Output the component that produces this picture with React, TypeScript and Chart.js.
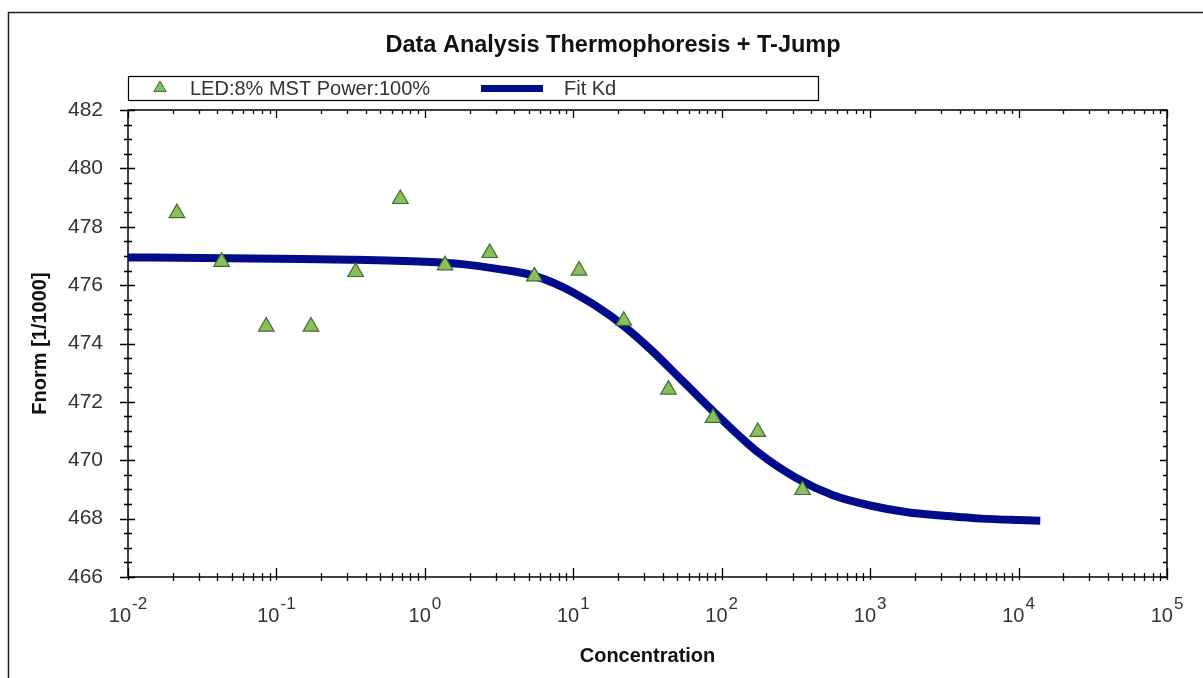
import React, { useEffect, useRef } from "react";
import { Chart, registerables } from "chart.js";

Chart.register(...registerables);

const chartTitle = "Data Analysis Thermophoresis + T-Jump";
const seriesLabel = "LED:8% MST Power:100%";
const fitLabel = "Fit Kd";
const xTitle = "Concentration";
const yTitle = "Fnorm [1/1000]";

// measured points
const concentrations = [0.02136, 0.04272, 0.08545, 0.1709, 0.3418, 0.6836, 1.367, 2.734, 5.469, 10.94, 21.88, 43.75, 87.5, 175, 350];
const fnorm = [478.47, 476.8, 474.58, 474.58, 476.45, 478.95, 476.68, 477.1, 476.3, 476.5, 474.78, 472.42, 471.45, 470.97, 468.98];

// fit curve
const fitConc = [0.01, 0.0316, 0.1, 0.316, 1, 1.78, 3.16, 5.62, 10, 17.8, 31.6, 56.2, 100, 178, 316, 562, 1000, 1780, 3160, 5620, 10000, 14000];
const fitFnorm = [476.95, 476.93, 476.9, 476.87, 476.8, 476.72, 476.55, 476.3, 475.75, 474.95, 473.9, 472.65, 471.4, 470.25, 469.4, 468.8, 468.45, 468.22, 468.1, 468.0, 467.95, 467.93];

const xExponents = [-2, -1, 0, 1, 2, 3, 4, 5];
const yMin = 466;
const yMax = 482;
const yStep = 2;

const FONT = '"Liberation Sans", Arial, sans-serif';
const NAVY = "#000c8a";
const TRI_FILL = "#8dbd5c";
const TRI_BORDER = "#3a7028";

const decorPlugin = {
  id: "decor",
  beforeDraw(chart: any) {
    const { ctx, width, height } = chart;
    ctx.save();
    ctx.fillStyle = "#ffffff";
    ctx.fillRect(0, 0, width, height);
    ctx.restore();
  },
  beforeDatasetsDraw(chart: any) {
    const { ctx, chartArea, scales } = chart;
    const { left, right, top, bottom } = chartArea;
    const x = scales.x;
    const y = scales.y;
    ctx.save();
    ctx.strokeStyle = "#000";
    ctx.lineWidth = 1.5;
    ctx.strokeRect(left, top, right - left, bottom - top);
    ctx.lineWidth = 1.3;
    ctx.beginPath();
    // y ticks
    for (let v = yMin; v <= yMax + 1e-9; v += yStep / 4) {
      const py = Math.round(y.getPixelForValue(v)) + 0.5;
      const major = Math.abs((v - yMin) % yStep) < 1e-6;
      const lo = major ? 8 : 4;
      const li = major ? 7 : 4;
      ctx.moveTo(left - lo, py);
      ctx.lineTo(left + li, py);
      const ri = major ? 7 : 4;
      ctx.moveTo(right, py);
      ctx.lineTo(right - ri, py);
    }
    // x ticks
    for (let i = 0; i < xExponents.length; i++) {
      const e = xExponents[i];
      const maxM = i === xExponents.length - 1 ? 1 : 9;
      for (let m = 1; m <= maxM; m++) {
        const px = Math.round(x.getPixelForValue(m * Math.pow(10, e))) + 0.5;
        const major = m === 1;
        if (major) {
          ctx.moveTo(px, bottom - 9);
          ctx.lineTo(px, bottom + 3);
          ctx.moveTo(px, top);
          ctx.lineTo(px, top + 8);
        } else {
          ctx.moveTo(px, bottom - 4);
          ctx.lineTo(px, bottom + 4);
          ctx.moveTo(px, top);
          ctx.lineTo(px, top + 4);
        }
      }
    }
    ctx.stroke();
    ctx.restore();
  },
  afterDraw(chart: any) {
    const { ctx, chartArea, scales } = chart;
    const { left, right, top, bottom } = chartArea;
    const x = scales.x;
    ctx.save();
    // outer frame (extends beyond the canvas on right/bottom)
    ctx.strokeStyle = "#222";
    ctx.lineWidth = 1.5;
    ctx.beginPath();
    ctx.moveTo(8.5, 700);
    ctx.lineTo(8.5, 12.5);
    ctx.lineTo(1210, 12.5);
    ctx.stroke();

    // title
    ctx.fillStyle = "#111";
    ctx.font = `bold 23.5px ${FONT}`;
    ctx.textAlign = "center";
    ctx.textBaseline = "middle";
    ctx.fillText(chartTitle, 613, 46);

    // legend box
    ctx.lineWidth = 1.2;
    ctx.strokeStyle = "#000";
    ctx.strokeRect(128.5, 76.5, 690, 24);
    // triangle symbol
    const tx = 160, ty = 88, r = 7;
    ctx.beginPath();
    ctx.moveTo(tx, ty - r);
    ctx.lineTo(tx + r * 0.87, ty + r * 0.5);
    ctx.lineTo(tx - r * 0.87, ty + r * 0.5);
    ctx.closePath();
    ctx.fillStyle = TRI_FILL;
    ctx.fill();
    ctx.strokeStyle = TRI_BORDER;
    ctx.lineWidth = 1;
    ctx.stroke();
    ctx.fillStyle = "#333";
    ctx.font = `20px ${FONT}`;
    ctx.textAlign = "left";
    ctx.textBaseline = "middle";
    ctx.fillText(seriesLabel, 190, 89);
    ctx.fillStyle = NAVY;
    ctx.fillRect(481, 85, 62, 7);
    ctx.fillStyle = "#333";
    ctx.fillText(fitLabel, 564, 89);

    // x tick labels with superscript exponents
    ctx.fillStyle = "#333";
    ctx.textBaseline = "alphabetic";
    for (const e of xExponents) {
      const px = x.getPixelForValue(Math.pow(10, e));
      const base = "10";
      const exp = String(e);
      ctx.font = `20px ${FONT}`;
      const wb = ctx.measureText(base).width;
      ctx.font = `17px ${FONT}`;
      const we = ctx.measureText(exp).width;
      const start = px - (wb + we + 1) / 2;
      ctx.textAlign = "left";
      ctx.font = `20px ${FONT}`;
      ctx.fillText(base, start, 622);
      ctx.font = `17px ${FONT}`;
      ctx.fillText(exp, start + wb + 1, 609);
    }

    // axis titles
    ctx.fillStyle = "#111";
    ctx.font = `bold 20px ${FONT}`;
    ctx.textAlign = "center";
    ctx.textBaseline = "middle";
    ctx.fillText(xTitle, (left + right) / 2, 656);
    ctx.save();
    ctx.translate(40, (top + bottom) / 2);
    ctx.rotate(-Math.PI / 2);
    ctx.font = `bold 20px ${FONT}`;
    ctx.fillText(yTitle, 0, 0);
    ctx.restore();

    ctx.restore();
  },
};

export default function App() {
  const canvasRef = useRef<HTMLCanvasElement | null>(null);

  useEffect(() => {
    document.body.style.margin = "0";
    const canvas = canvasRef.current;
    if (!canvas) return;
    const scatterData = concentrations.map((c, i) => ({ x: c, y: fnorm[i] }));
    const fitData = fitConc.map((c, i) => ({ x: c, y: fitFnorm[i] }));
    const chart = new Chart(canvas, {
      type: "scatter",
      data: {
        datasets: [
          {
            label: seriesLabel,
            data: scatterData,
            pointStyle: "triangle",
            pointRadius: 9,
            pointBackgroundColor: TRI_FILL,
            pointBorderColor: TRI_BORDER,
            pointBorderWidth: 1.2,
            showLine: false,
            order: 0,
          },
          {
            label: fitLabel,
            data: fitData,
            showLine: true,
            borderColor: NAVY,
            borderWidth: 8,
            pointRadius: 0,
            cubicInterpolationMode: "monotone",
            fill: false,
            order: 1,
          },
        ],
      },
      options: {
        responsive: false,
        animation: false,
        devicePixelRatio: 1,
        layout: { padding: { top: 110, right: 36, bottom: 0, left: 0 } },
        plugins: {
          legend: { display: false },
          title: { display: false },
          tooltip: { enabled: false },
        },
        scales: {
          x: {
            type: "logarithmic",
            min: 0.01,
            max: 100000,
            grid: { display: false, drawTicks: false },
            border: { display: false },
            ticks: { display: false },
            afterFit: (scale: any) => {
              scale.height = 101;
            },
          },
          y: {
            type: "linear",
            min: yMin,
            max: yMax,
            grid: { display: false, drawTicks: false },
            border: { display: false },
            ticks: {
              stepSize: yStep,
              color: "#333",
              padding: 25,
              font: { family: FONT, size: 21 },
            },
            afterFit: (scale: any) => {
              scale.width = 128;
            },
          },
        },
      },
      plugins: [decorPlugin],
    });
    return () => chart.destroy();
  }, []);

  return (
    <div style={{ width: 1203, height: 678 }}>
      <canvas ref={canvasRef} width={1203} height={678} style={{ display: "block" }} />
    </div>
  );
}
